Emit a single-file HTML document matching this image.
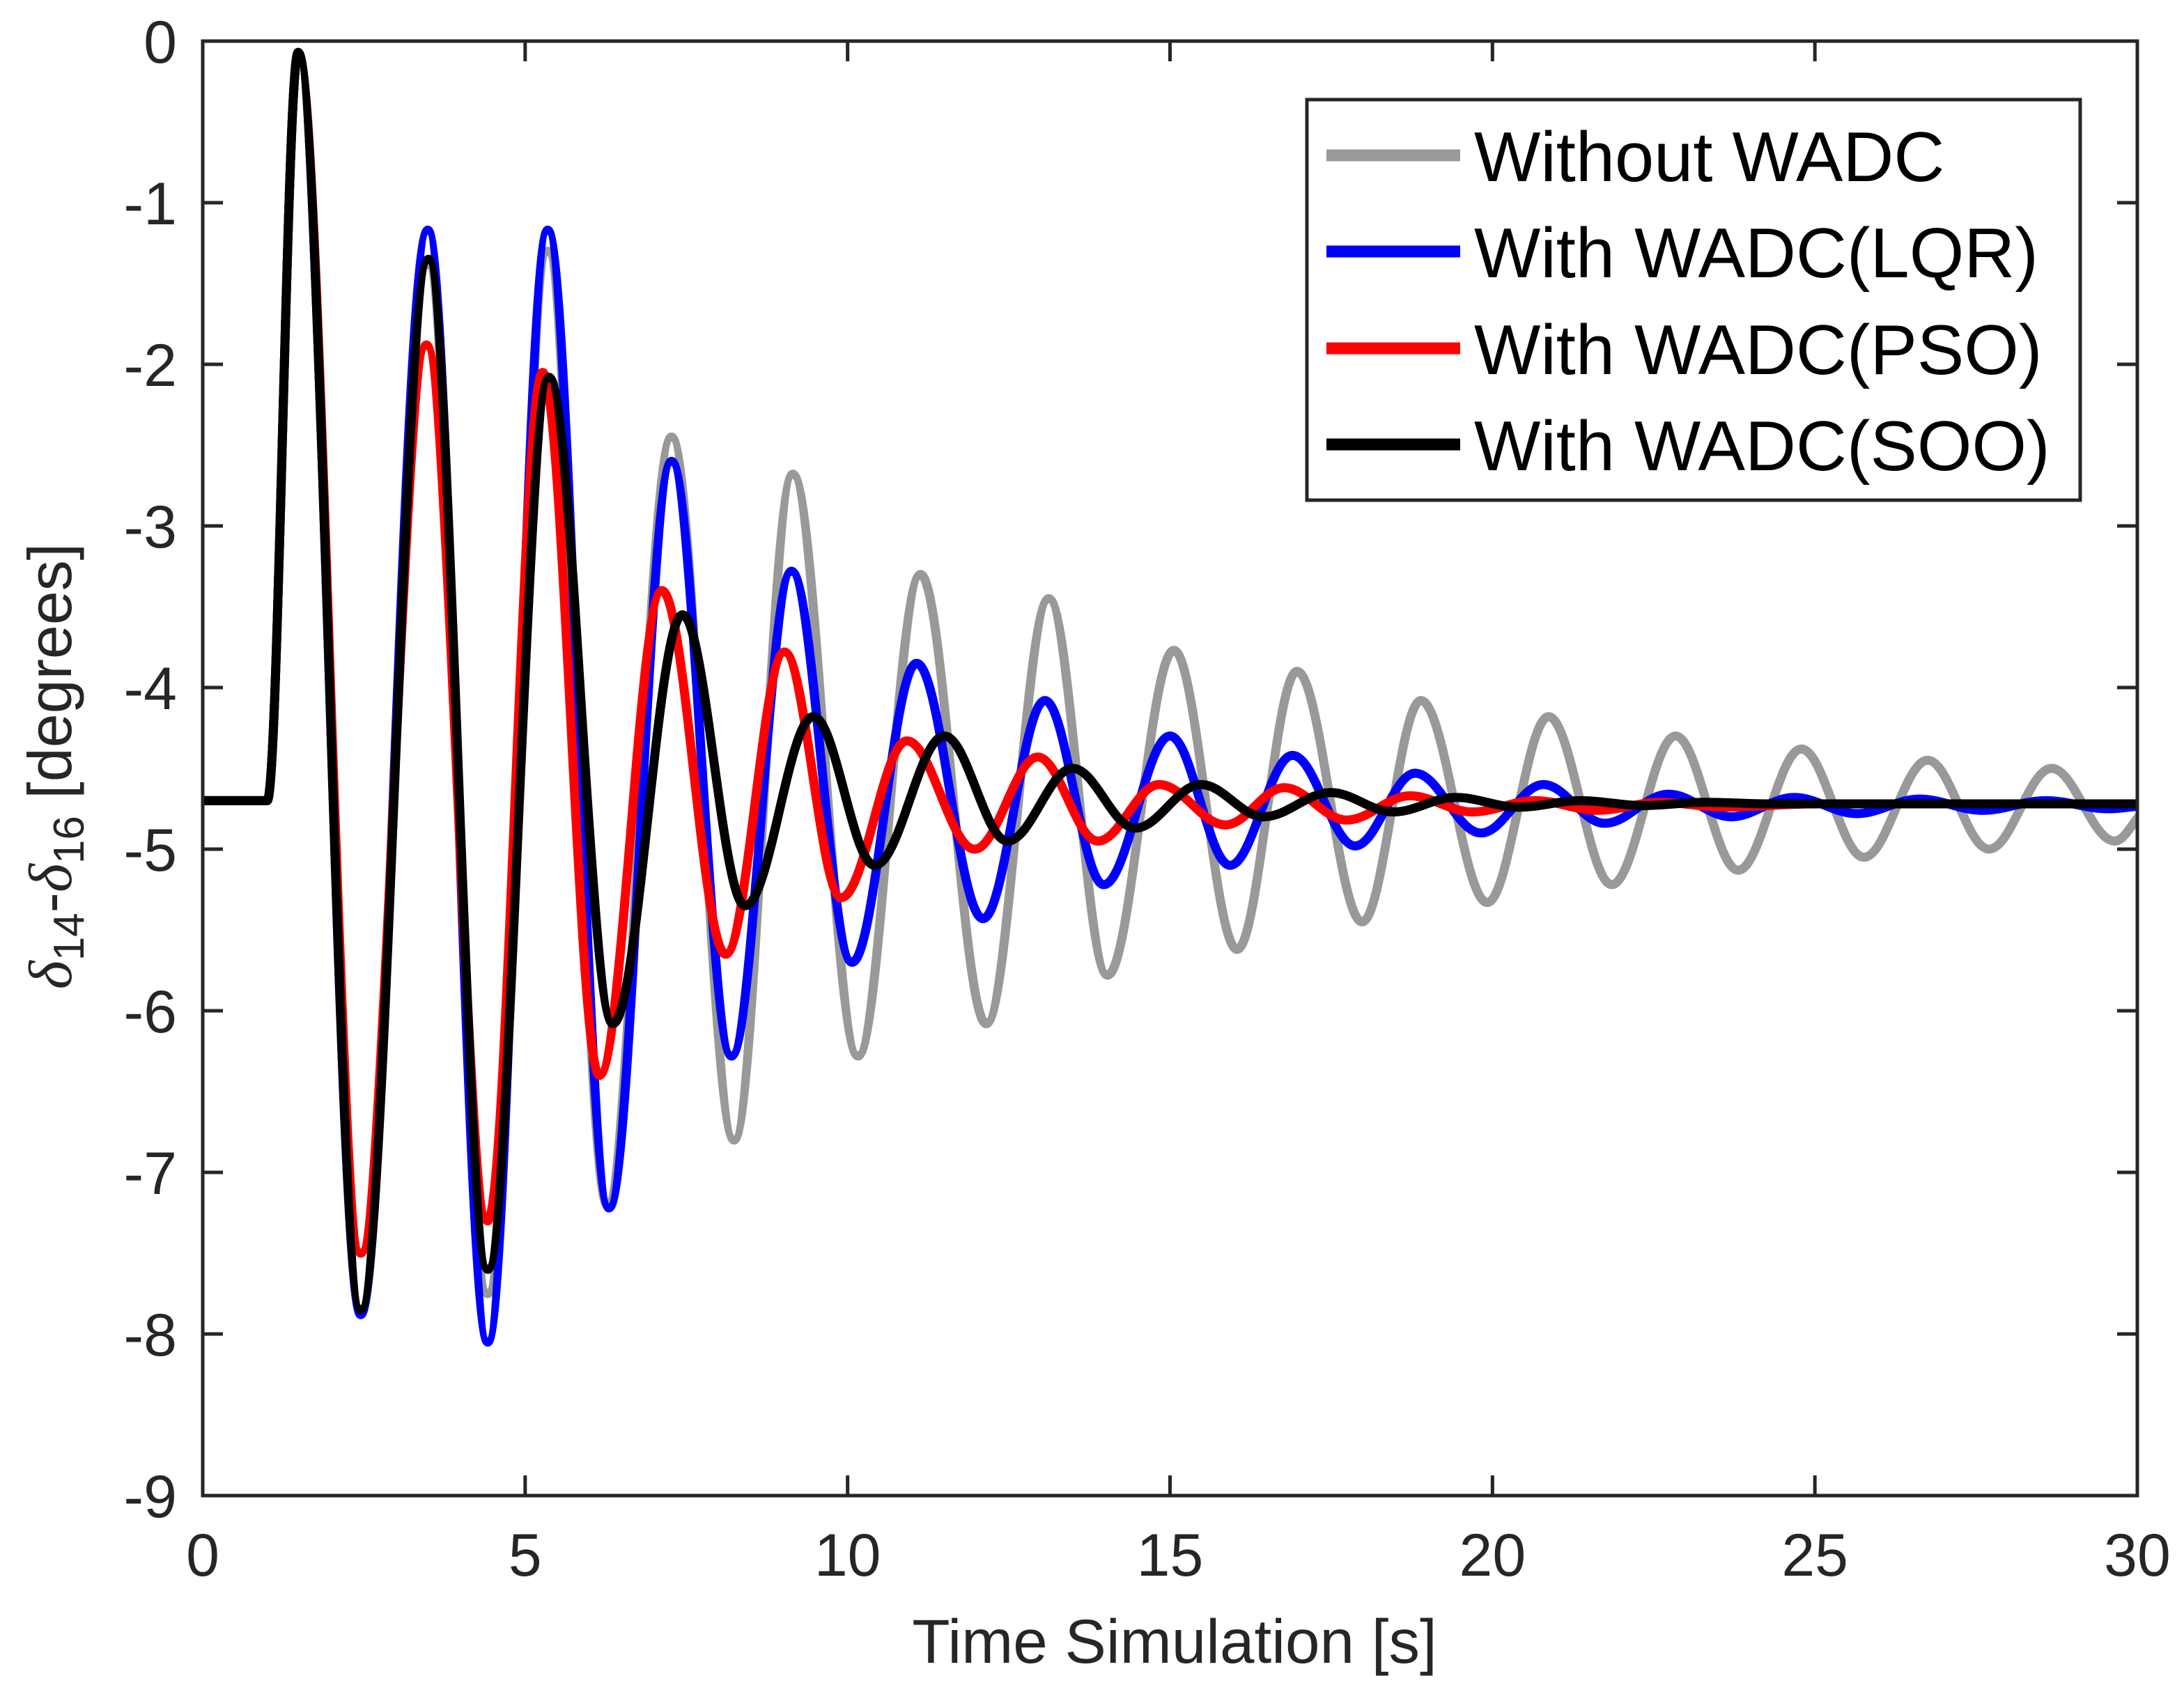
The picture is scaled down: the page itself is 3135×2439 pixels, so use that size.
<!DOCTYPE html>
<html>
<head>
<meta charset="utf-8">
<style>
  html, body { margin: 0; padding: 0; background: #ffffff; }
  svg { display: block; }
  text { font-family: "Liberation Sans", Arial, sans-serif; }
</style>
</head>
<body>
<svg id="chart" width="3135" height="2439" viewBox="0 0 3135 2439" xmlns="http://www.w3.org/2000/svg">
  <rect x="0" y="0" width="3135" height="2439" fill="#ffffff"/>
  <defs>
    <clipPath id="plotclip"><rect x="291" y="59" width="2777" height="2088"/></clipPath>
  </defs>
  <g id="series" clip-path="url(#plotclip)"></g>
  <g id="axes"></g>
  <text x="1686" y="2387" font-size="89" fill="#262626" text-anchor="middle">Time Simulation [s]</text>
  <text transform="translate(102,1100) rotate(-90)" font-size="88" fill="#262626" text-anchor="middle"><tspan font-family="Liberation Serif, serif" font-style="italic">δ</tspan><tspan font-size="62" dy="18">14</tspan><tspan dy="-18">-</tspan><tspan font-family="Liberation Serif, serif" font-style="italic">δ</tspan><tspan font-size="62" dy="18">16</tspan><tspan dy="-18"> [degrees]</tspan></text>
  <g id="legend"></g>
</svg>
<script>
// ---- chart data ----
const xTicks = [0, 5, 10, 15, 20, 25, 30];
const yTicks = [0, -1, -2, -3, -4, -5, -6, -7, -8, -9];
const seriesNames = ["Without WADC", "With WADC(LQR)", "With WADC(PSO)", "With WADC(SOO)"];

const grayT = [0, 1.0, 1.48, 2.45, 3.49, 4.42, 5.35, 6.27, 7.27, 8.24, 9.15, 10.16, 11.13, 12.15, 13.12, 14.03, 15.06, 16.04, 16.97, 17.98, 18.89, 19.92, 20.87, 21.85, 22.84, 23.81, 24.79, 25.76, 26.75, 27.7, 28.67, 29.65, 30.2];
const grayV = [-4.7, -4.7, -0.07, -7.85, -1.38, -7.75, -1.3, -7.2, -2.45, -6.8, -2.68, -6.28, -3.3, -6.08, -3.45, -5.78, -3.77, -5.62, -3.9, -5.45, -4.08, -5.33, -4.18, -5.22, -4.3, -5.13, -4.38, -5.05, -4.45, -5.0, -4.5, -4.95, -4.75];

const blueT = [0, 1.0, 1.48, 2.45, 3.49, 4.42, 5.35, 6.3, 7.27, 8.2, 9.13, 10.07, 11.07, 12.1, 13.06, 13.97, 15.0, 15.93, 16.9, 17.87, 18.8, 19.82, 20.79, 21.74, 22.73, 23.7, 24.68, 25.65, 26.62, 27.6, 28.58, 29.55, 30.2];
const blueV = [-4.7, -4.7, -0.07, -7.88, -1.17, -8.05, -1.17, -7.22, -2.6, -6.28, -3.28, -5.7, -3.85, -5.43, -4.08, -5.22, -4.3, -5.1, -4.42, -4.98, -4.53, -4.9, -4.6, -4.84, -4.66, -4.8, -4.68, -4.78, -4.69, -4.76, -4.70, -4.75, -4.73];

const redT = [0, 1.0, 1.48, 2.45, 3.47, 4.42, 5.27, 6.15, 7.12, 8.11, 9.02, 9.9, 10.92, 11.97, 12.95, 13.88, 14.83, 15.86, 16.77, 17.74, 18.72, 19.69, 20.66, 21.63, 22.6, 23.57, 25.0, 30.2];
const redV = [-4.7, -4.7, -0.07, -7.5, -1.88, -7.3, -2.05, -6.4, -3.4, -5.65, -3.78, -5.3, -4.33, -5.0, -4.43, -4.95, -4.6, -4.85, -4.62, -4.82, -4.67, -4.77, -4.7, -4.76, -4.71, -4.74, -4.72, -4.72];

const blackT = [0, 1.0, 1.48, 2.45, 3.5, 4.42, 5.37, 6.36, 7.44, 8.41, 9.47, 10.42, 11.5, 12.48, 13.49, 14.46, 15.48, 16.45, 17.49, 18.46, 19.43, 20.4, 21.37, 22.34, 23.3, 24.3, 30.2];
const blackV = [-4.7, -4.7, -0.07, -7.85, -1.35, -7.6, -2.08, -6.08, -3.55, -5.35, -4.18, -5.1, -4.3, -4.95, -4.5, -4.87, -4.6, -4.8, -4.65, -4.77, -4.68, -4.74, -4.7, -4.73, -4.71, -4.72, -4.72];

// ---- axis functions ----
const PL = 291, PR = 3068, PT = 59, PB = 2147;
const X_MIN = 0, X_MAX = 30, Y_MIN = -9, Y_MAX = 0;
function xScale(t) { return PL + (t - X_MIN) / (X_MAX - X_MIN) * (PR - PL); }
function yScale(v) { return PT + (Y_MAX - v) / (Y_MAX - Y_MIN) * (PB - PT); }

const NS = "http://www.w3.org/2000/svg";
function mk(tag, attrs) {
  const el = document.createElementNS(NS, tag);
  for (const k in attrs) el.setAttribute(k, attrs[k]);
  return el;
}

function buildPath(ts, vs) {
  let d = "M" + xScale(ts[0]).toFixed(1) + "," + yScale(vs[0]).toFixed(1);
  const k = 0.36;
  for (let i = 1; i < ts.length; i++) {
    const x0 = xScale(ts[i - 1]), y0 = yScale(vs[i - 1]);
    const x1 = xScale(ts[i]), y1 = yScale(vs[i]);
    const dx = x1 - x0;
    d += " C" + (x0 + k * dx).toFixed(1) + "," + y0.toFixed(1) + " " +
         (x1 - k * dx).toFixed(1) + "," + y1.toFixed(1) + " " +
         x1.toFixed(1) + "," + y1.toFixed(1);
  }
  return d;
}

const seriesG = document.getElementById("series");
const seriesData = [
  [grayT, grayV, "#999999", "series-without-wadc"],
  [blueT, blueV, "#0000ff", "series-wadc-lqr"],
  [redT, redV, "#ff0000", "series-wadc-pso"],
  [blackT, blackV, "#000000", "series-wadc-soo"]
];
seriesData.forEach(function (s) {
  const p = mk("path", { d: buildPath(s[0], s[1]), fill: "none", stroke: s[2], "stroke-width": 13, "stroke-linejoin": "round", "stroke-linecap": "round" });
  
  
  seriesG.appendChild(p);
});

// ---- axes ----
const axesG = document.getElementById("axes");
const frame = mk("rect", { x: PL, y: PT, width: PR - PL, height: PB - PT, fill: "none", stroke: "#262626", "stroke-width": 5 });


axesG.appendChild(frame);

const TL = 29;
xTicks.forEach(function (t) {
  const x = xScale(t);
  const tb = mk("line", { x1: x, y1: PB, x2: x, y2: PB - TL, stroke: "#262626", "stroke-width": 5 });
  
  
  axesG.appendChild(tb);
  const tt = mk("line", { x1: x, y1: PT, x2: x, y2: PT + TL, stroke: "#262626", "stroke-width": 5 });
  
  
  axesG.appendChild(tt);
  const lb = mk("text", { x: x, y: 2262, "font-size": 86, fill: "#262626", "text-anchor": "middle" });
  lb.textContent = String(t);
  
  
  axesG.appendChild(lb);
});
yTicks.forEach(function (v) {
  const y = yScale(v);
  const tl = mk("line", { x1: PL, y1: y, x2: PL + TL, y2: y, stroke: "#262626", "stroke-width": 5 });
  
  
  axesG.appendChild(tl);
  const tr = mk("line", { x1: PR, y1: y, x2: PR - TL, y2: y, stroke: "#262626", "stroke-width": 5 });
  
  
  axesG.appendChild(tr);
  const lb = mk("text", { x: 254, y: y + 31, "font-size": 86, fill: "#262626", "text-anchor": "end" });
  lb.textContent = String(v);
  
  
  axesG.appendChild(lb);
});

// ---- legend ----
const legG = document.getElementById("legend");
const box = mk("rect", { x: 1876, y: 143, width: 1110, height: 575, fill: "#ffffff", stroke: "#262626", "stroke-width": 5 });


legG.appendChild(box);
const legY = [223, 361, 500, 638];
seriesNames.forEach(function (name, i) {
  const y = legY[i];
  const ln = mk("line", { x1: 1904, y1: y, x2: 2096, y2: y, stroke: seriesData[i][2], "stroke-width": 17 });
  
  
  legG.appendChild(ln);
  const tx = mk("text", { x: 2116, y: y + 37, "font-size": 101, fill: "#000000" });
  tx.textContent = name;
  
  
  legG.appendChild(tx);
});
</script>
</body>
</html>
